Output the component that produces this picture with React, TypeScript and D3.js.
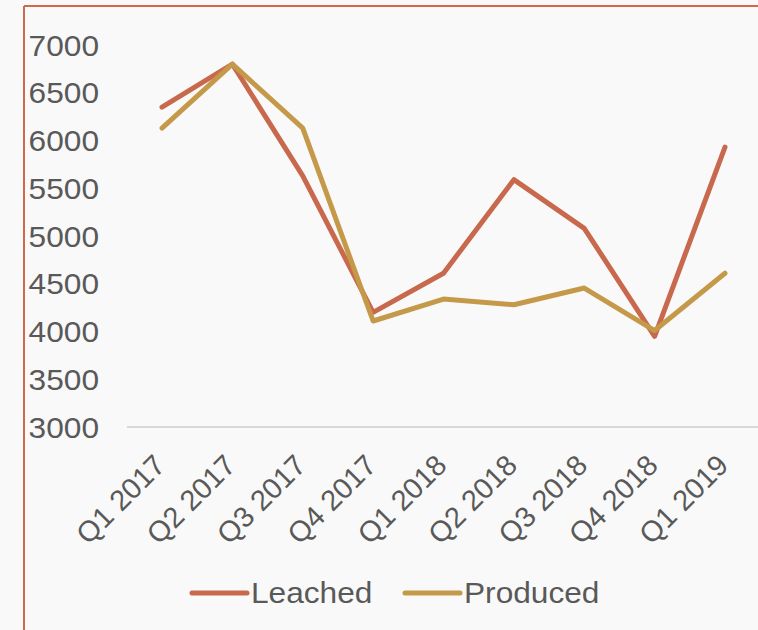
import React from "react";
import * as d3 from "d3";

const categories = ["Q1 2017","Q2 2017","Q3 2017","Q4 2017","Q1 2018","Q2 2018","Q3 2018","Q4 2018","Q1 2019"];
const leached = [6350, 6800, 5630, 4200, 4610, 5590, 5080, 3950, 5930];
const produced = [6130, 6800, 6130, 4110, 4340, 4280, 4455, 4010, 4610];
const yTicks = [3000, 3500, 4000, 4500, 5000, 5500, 6000, 6500, 7000];
const seriesNames = ["Leached", "Produced"];
const colors = ["#c8694e", "#c49a4a"];

export default function App() {
  const W = 758, H = 630;
  const x = d3.scalePoint<string>().domain(categories).range([162, 725]);
  const y = d3.scaleLinear().domain([3000, 7000]).range([427, 45]);
  const line = d3.line<number>().x((_, i) => x(categories[i])!).y(d => y(d));
  const font = "'Liberation Sans', Arial, sans-serif";
  const data = [leached, produced];
  const fs = 29.3;
  return (
    <svg width={W} height={H} style={{ position: "absolute", left: 0, top: 0 }}>
      <rect x={0} y={0} width={W} height={H} fill="#f9f9f9" />
      <line x1={24} y1={6} x2={W} y2={6} stroke="#d0694c" strokeWidth={2} />
      <line x1={24} y1={6} x2={24} y2={H} stroke="#d0694c" strokeWidth={2} />
      <line x1={127} x2={W} y1={y(3000)} y2={y(3000)} stroke="#d9d9d9" strokeWidth={2} />
      {yTicks.map(t => (
        <text key={t} transform={`translate(99,${y(t)}) scale(1.08,1)`} dy="0.36em" textAnchor="end" fontFamily={font} fontSize={fs} fill="#595959">{t}</text>
      ))}
      {categories.map(c => (
        <text key={c} transform={`translate(${x(c)! + 5},${467}) rotate(-45)`} textAnchor="end" fontFamily={font} fontSize={29} fill="#595959">{c}</text>
      ))}
      {data.map((d, i) => (
        <path key={i} d={line(d)!} fill="none" stroke={colors[i]} strokeWidth={5} strokeLinecap="round" strokeLinejoin="round" />
      ))}
      {seriesNames.map((n, i) => {
        const lx = i === 0 ? 192 : 405;
        return (
          <g key={n}>
            <line x1={lx} x2={lx + 55} y1={593} y2={593} stroke={colors[i]} strokeWidth={5} strokeLinecap="round" />
            <text transform={`translate(${lx + 59},603) scale(1.08,1)`} fontFamily={font} fontSize={fs} fill="#595959">{n}</text>
          </g>
        );
      })}
    </svg>
  );
}
